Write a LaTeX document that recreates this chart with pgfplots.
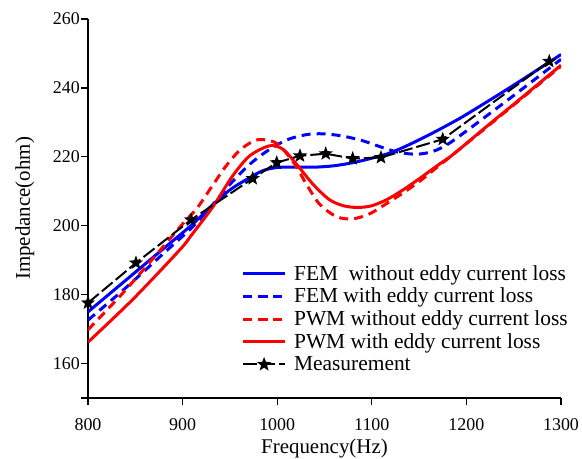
\documentclass[border=0pt]{standalone}
\usepackage{fontspec}
\setmainfont{Liberation Serif}
\usepackage{pgfplots}
\pgfplotsset{compat=1.18}

% filled five-pointed star
\pgfdeclareplotmark{fstar}{%
  \pgfpathmoveto{\pgfpointpolar{90}{\pgfplotmarksize}}%
  \pgfpathlineto{\pgfpointpolar{126}{0.42\pgfplotmarksize}}%
  \pgfpathlineto{\pgfpointpolar{162}{\pgfplotmarksize}}%
  \pgfpathlineto{\pgfpointpolar{198}{0.42\pgfplotmarksize}}%
  \pgfpathlineto{\pgfpointpolar{234}{\pgfplotmarksize}}%
  \pgfpathlineto{\pgfpointpolar{270}{0.42\pgfplotmarksize}}%
  \pgfpathlineto{\pgfpointpolar{306}{\pgfplotmarksize}}%
  \pgfpathlineto{\pgfpointpolar{342}{0.42\pgfplotmarksize}}%
  \pgfpathlineto{\pgfpointpolar{18}{\pgfplotmarksize}}%
  \pgfpathlineto{\pgfpointpolar{54}{0.42\pgfplotmarksize}}%
  \pgfpathclose
  \pgfusepathqfill}

\begin{document}
\begin{tikzpicture}
\useasboundingbox (-88bp,-61bp) rectangle (494bp,398bp);
\begin{axis}[
  scale only axis, width=473bp, height=379bp,
  xmin=800, xmax=1300, ymin=150, ymax=260,
  xtick={800,900,...,1300}, ytick={160,180,...,260},
  extra y ticks={150}, extra y tick labels={},
  axis lines*=left, axis line style={line width=1.3bp},
  tick align=outside, major tick length=7bp,
  tick style={line width=1.3bp, black},
  /pgf/number format/1000 sep={}, /pgf/number format/assume math mode=true,
  tick label style={font=\fontsize{18}{18}\selectfont},
  yticklabel style={inner sep=1bp},
  xticklabel style={yshift=-10bp},
  label style={font=\fontsize{21}{21}\selectfont},
  xlabel={Frequency(Hz)}, ylabel={Impedance(ohm)},
  xlabel style={yshift=-2bp},
  legend cell align=left,
  legend style={at={(0.318,0.36)}, anchor=north west, draw=none, fill=none,
    font=\fontsize{21.5}{21.5}\selectfont, row sep=3.5bp,
    nodes={inner sep=1.5bp},
    /tikz/every odd column/.append style={column sep=6bp}},
  legend image code/.code={%
    \draw[mark repeat=2,mark phase=2,#1] plot coordinates {(0bp,0bp) (21bp,0bp) (42bp,0bp)};},
]
% FEM without eddy current loss
\addplot[blue, line width=3bp, smooth] coordinates {
 (800,175.0) (840,184.2) (880,193.4) (910,200.3) (930,205.6) (950,210.4)
 (970,213.8) (985,216.0) (1000,216.9) (1020,217.0) (1040,217.0) (1060,217.4)
 (1080,218.3) (1100,219.6) (1120,221.2) (1140,223.6) (1160,226.3) (1180,229.2)
 (1200,232.3) (1250,240.8) (1300,249.7)
};
\addlegendentry{FEM\ \ without eddy current loss}
% FEM with eddy current loss
\addplot[blue, line width=3bp, dash pattern=on 9bp off 6bp, smooth] coordinates {
 (800,172.6) (840,182.0) (880,192.0) (910,199.5) (930,205.5) (950,212.0)
 (970,217.6) (990,221.8) (1010,224.9) (1030,226.4) (1045,226.7) (1060,226.4)
 (1075,225.7) (1090,224.7) (1105,223.3) (1120,221.9) (1135,221.0) (1150,220.8)
 (1165,221.6) (1180,223.6) (1200,227.5) (1250,237.8) (1300,248.3)
};
\addlegendentry{FEM with eddy current loss}
% PWM without eddy current loss
\addplot[red, line width=3bp, dash pattern=on 9bp off 6bp, smooth] coordinates {
 (800,169.8) (837,180.5) (876,192.8) (900,200.5) (915,205.0) (930,211.0)
 (945,217.0) (960,221.8) (975,224.6) (985,225.0) (1000,223.8) (1017,218.5)
 (1031,212.0) (1045,206.2) (1063,202.6) (1080,202.0) (1098,203.5) (1116,206.5)
 (1133,209.5) (1151,213.0) (1170,217.2) (1186,220.7) (1220,228.3) (1260,237.3)
 (1300,246.3)
};
\addlegendentry{PWM without eddy current loss}
% PWM with eddy current loss
\addplot[red, line width=3bp, smooth] coordinates {
 (800,166.2) (848,178.8) (897,193.0) (910,197.5) (932,205.5) (953,214.5)
 (971,220.3) (992,223.2) (1006,222.2) (1020,218.0) (1038,212.0) (1055,207.6)
 (1070,205.8) (1085,205.3) (1100,205.8) (1116,207.6) (1133,210.4) (1151,213.8)
 (1170,217.6) (1186,220.7) (1220,228.5) (1260,237.5) (1300,246.6)
};
\addlegendentry{PWM with eddy current loss}
% Measurement
\addplot[black, line width=2bp, dash pattern=on 14bp off 4bp,
  mark=fstar, mark size=7.5bp, mark options={solid}] coordinates {
 (800,177.6) (850.7,189.2) (908.9,201.7) (974.1,213.7) (999.5,218.3)
 (1024.1,220.3) (1051.3,220.9) (1079.8,219.5) (1109.7,219.8) (1175,225.1)
 (1287.6,247.7)
};
\addlegendentry{Measurement}
\end{axis}
\end{tikzpicture}
\end{document}
